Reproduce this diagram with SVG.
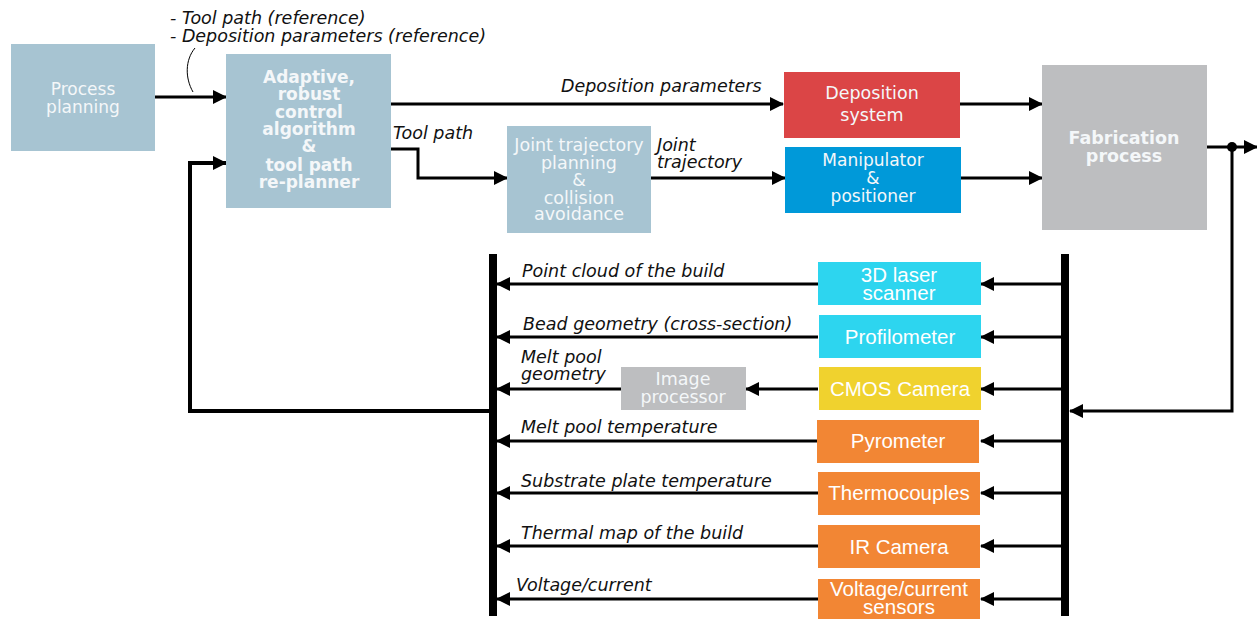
<svg xmlns="http://www.w3.org/2000/svg" width="1257" height="619" viewBox="0 0 1257 619">
<style>
.blk{fill:#a7c4d2}
.t{font-family:"DejaVu Sans",Verdana,sans-serif;fill:#f4f7f9;text-anchor:middle}
.tb{font-family:"DejaVu Sans",Verdana,sans-serif;fill:#f4f7f9;text-anchor:middle;font-weight:bold}
.s{font-family:"Liberation Sans",Arial,sans-serif;fill:#ffffff;text-anchor:middle;font-size:20.5px}
.lab{font-family:"DejaVu Sans",Verdana,sans-serif;font-style:italic;font-size:17.5px;fill:#111}
.ln{stroke:#000;stroke-width:3;fill:none}
.bus{stroke:#000;stroke-width:8;fill:none}
</style>
<defs>
<marker id="ah" markerUnits="userSpaceOnUse" markerWidth="14" markerHeight="14" refX="13" refY="7" orient="auto">
<path d="M0,0 L14,7 L0,14 Z" fill="#000"/>
</marker>
</defs>
<rect width="1257" height="619" fill="#fff"/>

<g id="connectors">
<path class="ln" d="M155,97 H226" marker-end="url(#ah)"/>
<path d="M195,48 C185,60 185,78 193,92" stroke="#000" stroke-width="1" fill="none"/>
<path class="ln" d="M391,104 H783" marker-end="url(#ah)"/>
<path class="ln" d="M391,149 H418 V178 H507" marker-end="url(#ah)"/>
<path class="ln" d="M651,178 H785" marker-end="url(#ah)"/>
<path class="ln" d="M960,104 H1042" marker-end="url(#ah)"/>
<path class="ln" d="M961,178 H1042" marker-end="url(#ah)"/>
<path class="ln" d="M1207,147 H1257" marker-end="url(#ah)"/>
<circle cx="1232" cy="147" r="5" fill="#000"/>
<path class="ln" d="M1232,147 V411 H1070" marker-end="url(#ah)"/>
<path class="bus" d="M1065,254 V616"/>
<path class="bus" d="M493,254 V616"/>
<path d="M493,411 H190 V163 H226" stroke="#000" stroke-width="4" fill="none" marker-end="url(#ah)"/>
<path class="ln" d="M1062,284 H981" marker-end="url(#ah)"/>
<path class="ln" d="M1062,337 H981" marker-end="url(#ah)"/>
<path class="ln" d="M1062,389 H981" marker-end="url(#ah)"/>
<path class="ln" d="M1062,441 H981" marker-end="url(#ah)"/>
<path class="ln" d="M1062,493 H981" marker-end="url(#ah)"/>
<path class="ln" d="M1062,546 H981" marker-end="url(#ah)"/>
<path class="ln" d="M1062,599 H981" marker-end="url(#ah)"/>
<path class="ln" d="M818,284 H497" marker-end="url(#ah)"/>
<path class="ln" d="M818,337 H497" marker-end="url(#ah)"/>
<path class="ln" d="M818,389 H746" marker-end="url(#ah)"/>
<path class="ln" d="M621,389 H497" marker-end="url(#ah)"/>
<path class="ln" d="M818,441 H497" marker-end="url(#ah)"/>
<path class="ln" d="M818,493 H497" marker-end="url(#ah)"/>
<path class="ln" d="M818,546 H497" marker-end="url(#ah)"/>
<path class="ln" d="M818,599 H497" marker-end="url(#ah)"/>
<text class="lab" x="170" y="24">- Tool path (reference)</text>
<text class="lab" x="170" y="42">- Deposition parameters (reference)</text>
<text class="lab" x="561" y="92">Deposition parameters</text>
<text class="lab" x="393" y="139">Tool path</text>
<text class="lab" x="657" y="151">Joint</text>
<text class="lab" x="657" y="168">trajectory</text>
<text class="lab" x="522" y="277">Point cloud of the build</text>
<text class="lab" x="523" y="330">Bead geometry (cross-section)</text>
<text class="lab" x="521" y="363">Melt pool</text>
<text class="lab" x="521" y="380">geometry</text>
<text class="lab" x="521" y="433">Melt pool temperature</text>
<text class="lab" x="521" y="487">Substrate plate temperature</text>
<text class="lab" x="521" y="539">Thermal map of the build</text>
<text class="lab" x="516" y="591">Voltage/current</text>
</g>

<g id="process-planning">
<rect class="blk" x="11" y="44" width="144" height="107"/>
<text class="t" font-size="17" x="83" y="95">Process</text>
<text class="t" font-size="17" x="83" y="113">planning</text>
</g>

<g id="adaptive-control">
<rect class="blk" x="226" y="54" width="165" height="154"/>
<text class="tb" font-size="17" x="309" y="83">Adaptive,</text>
<text class="tb" font-size="17" x="309" y="100">robust</text>
<text class="tb" font-size="17" x="309" y="118">control</text>
<text class="tb" font-size="17" x="309" y="135">algorithm</text>
<text class="tb" font-size="17" x="309" y="152">&amp;</text>
<text class="tb" font-size="17" x="309" y="171">tool path</text>
<text class="tb" font-size="17" x="309" y="188">re-planner</text>
</g>

<g id="joint-trajectory">
<rect class="blk" x="507" y="126" width="144" height="107"/>
<text class="t" font-size="17.5" x="579" y="151">Joint trajectory</text>
<text class="t" font-size="17.5" x="579" y="169">planning</text>
<text class="t" font-size="17.5" x="579" y="186">&amp;</text>
<text class="t" font-size="17.5" x="579" y="204">collision</text>
<text class="t" font-size="17.5" x="579" y="220">avoidance</text>
</g>

<g id="deposition-system">
<rect x="784" y="72" width="176" height="66" fill="#db4546"/>
<text class="t" font-size="17.5" x="872" y="99">Deposition</text>
<text class="t" font-size="17.5" x="872" y="121">system</text>
</g>

<g id="manipulator">
<rect x="785" y="147" width="176" height="66" fill="#0099d9"/>
<text class="t" font-size="17" x="873" y="166">Manipulator</text>
<text class="t" font-size="17" x="873" y="184">&amp;</text>
<text class="t" font-size="17" x="873" y="202">positioner</text>
</g>

<g id="fabrication">
<rect x="1042" y="65" width="165" height="165" fill="#bdbec0"/>
<text class="tb" font-size="17.5" x="1124" y="144">Fabrication</text>
<text class="tb" font-size="17.5" x="1124" y="162">process</text>
</g>

<g id="laser-scanner">
<rect x="818" y="262" width="163" height="43" fill="#2dd5ef"/>
<text class="s" font-size="18.5" x="899" y="282">3D laser</text>
<text class="s" font-size="18.5" x="899" y="300">scanner</text>
</g>

<g id="profilometer">
<rect x="819" y="315" width="162" height="43" fill="#2dd5ef"/>
<text class="s" x="900" y="344">Profilometer</text>
</g>

<g id="cmos-camera">
<rect x="819" y="367" width="162" height="43" fill="#f0d22e"/>
<text class="s" x="900" y="396">CMOS Camera</text>
</g>

<g id="image-processor">
<rect x="621" y="367" width="125" height="43" fill="#bdbec0"/>
<text class="t" font-size="17.5" x="683" y="385">Image</text>
<text class="t" font-size="17.5" x="683" y="403">processor</text>
</g>

<g id="pyrometer">
<rect x="817" y="420" width="162" height="43" fill="#f28634"/>
<text class="s" x="898" y="448">Pyrometer</text>
</g>

<g id="thermocouples">
<rect x="818" y="472" width="162" height="43" fill="#f28634"/>
<text class="s" x="899" y="500">Thermocouples</text>
</g>

<g id="ir-camera">
<rect x="818" y="525" width="162" height="43" fill="#f28634"/>
<text class="s" x="899" y="554">IR Camera</text>
</g>

<g id="voltage-sensors">
<rect x="818" y="579" width="162" height="40" fill="#f28634"/>
<text class="s" font-size="19.5" x="899" y="596">Voltage/current</text>
<text class="s" font-size="19.5" x="899" y="614">sensors</text>
</g>
</svg>
